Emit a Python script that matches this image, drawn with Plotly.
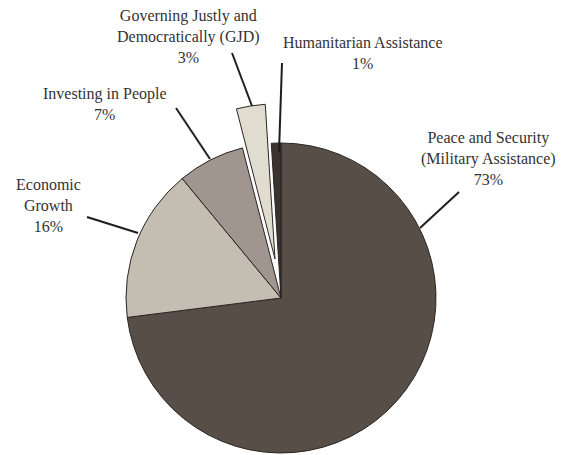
import plotly.graph_objects as go

W, H = 569, 455
OFF = 8  # page body margin offset

labels = ["Peace and Security (Military Assistance)", "Economic Growth",
          "Investing in People", "Governing Justly and Democratically (GJD)",
          "Humanitarian Assistance"]
display_labels = ["Peace and Security<br>(Military Assistance)", "Economic<br>Growth",
                  "Investing in People", "Governing Justly and<br>Democratically (GJD)",
                  "Humanitarian Assistance"]
values = [73, 16, 7, 3, 1]
colors = ["#574e48", "#c3bdb2", "#a0958f", "#e0ddd0", "#3a332e"]
exploded = "Governing Justly and Democratically (GJD)"

# label anchor positions (pixels) and leader lines (pixels), screen coordinates
label_pos = [(488, 159), (48, 205), (105, 104), (188, 36), (363, 53)]
leaders = [((420, 228), (459, 192)), ((87, 217), (138, 233)), ((176, 108), (210, 159)),
           ((232, 53), (252, 106)), ((282, 63), (279, 152))]

def px(x):
    return (x - OFF) / W

def py(y):
    return 1 - (y - OFF) / H

ex_idx = labels.index(exploded)
main_colors = [c if i != ex_idx else "rgba(0,0,0,0)" for i, c in enumerate(colors)]
main_widths = [1 if i != ex_idx else 0 for i in range(len(labels))]
ex_colors = [c if i == ex_idx else "rgba(0,0,0,0)" for i, c in enumerate(colors)]
ex_widths = [1 if i == ex_idx else 0 for i in range(len(labels))]

fig = go.Figure()
fig.add_trace(go.Pie(
    labels=labels, values=values, sort=False, direction="clockwise", rotation=0,
    marker=dict(colors=main_colors, line=dict(color="#2b2522", width=main_widths)),
    textinfo="none", hoverinfo="label+percent", showlegend=False,
    domain=dict(x=[px(126), px(436)], y=[py(453), py(143)]),
))
fig.add_trace(go.Pie(
    labels=labels, values=values, sort=False, direction="clockwise", rotation=0,
    marker=dict(colors=ex_colors, line=dict(color="#2b2522", width=ex_widths)),
    textinfo="none", hoverinfo="skip", showlegend=False,
    domain=dict(x=[px(120), px(430)], y=[py(414), py(104)]),
))

for (lx, ly), txt, v in zip(label_pos, display_labels, values):
    fig.add_annotation(x=px(lx), y=py(ly), xref="paper", yref="paper",
                       text=f"{txt}<br>{v}%", showarrow=False,
                       xanchor="center", yanchor="middle", align="center",
                       font=dict(family="Liberation Serif", size=16, color="#333333"))

for (x0, y0), (x1, y1) in leaders:
    fig.add_shape(type="line", xref="paper", yref="paper",
                  x0=px(x0), y0=py(y0), x1=px(x1), y1=py(y1),
                  line=dict(color="#1e1e1e", width=2))

fig.update_layout(width=W, height=H, margin=dict(l=0, r=0, t=0, b=0),
                  paper_bgcolor="white", plot_bgcolor="white")
fig.write_html("out.html")
